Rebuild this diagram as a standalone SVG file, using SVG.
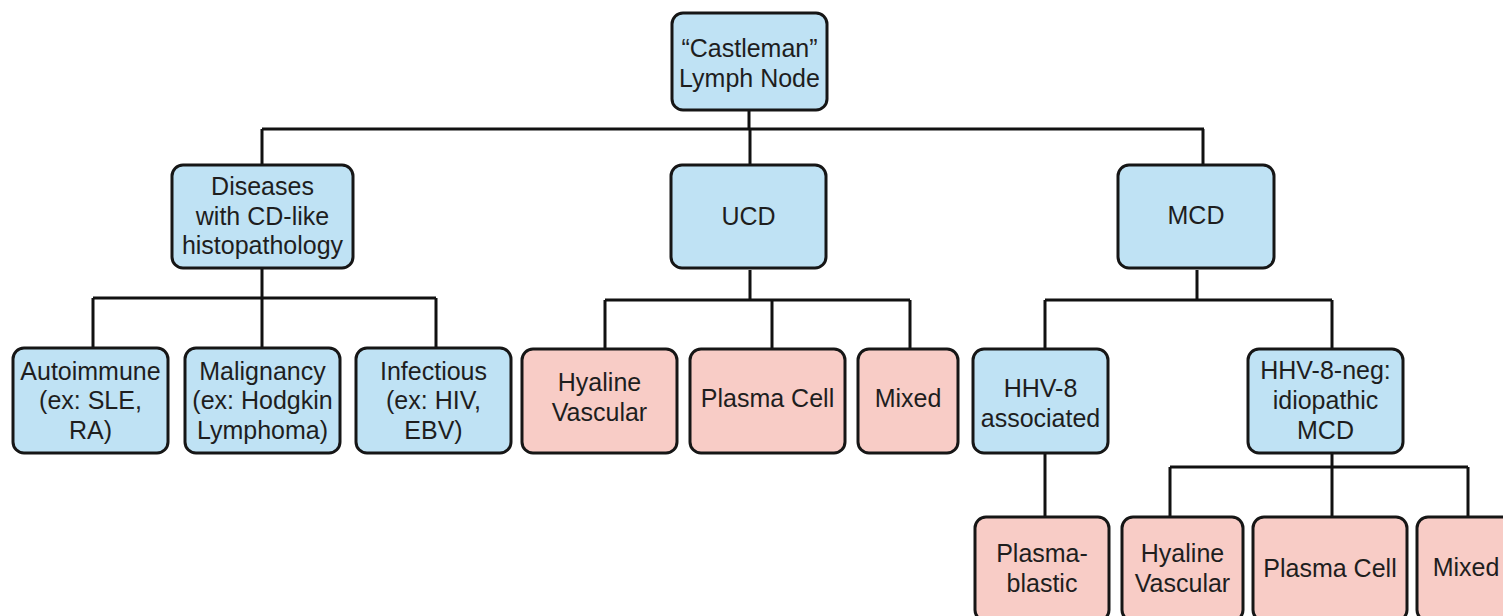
<svg xmlns="http://www.w3.org/2000/svg" width="1503" height="616" viewBox="0 0 1503 616">
<style>
.b{fill:#bfe2f4;stroke:#161616;stroke-width:3}
.p{fill:#f8ccc6;stroke:#161616;stroke-width:3}
text{font-family:"Liberation Sans",Arial,sans-serif;font-size:25px;fill:#1e1e1e;text-anchor:middle}
.c{fill:none;stroke:#111;stroke-width:3}
</style>
<rect width="1503" height="616" fill="#fff"/>
<g id="connectors" class="c">
<path d="M749 110V129M262 129H1204M262 129V165M750 129V165M1203 129V165"/>
<path d="M262 268V298M93 298H436M93 298V348M262 298V348M436 298V348"/>
<path d="M750 270V300M605 300H910M605 300V349M772 300V349M910 300V349"/>
<path d="M1197 270V300M1045 300H1332M1045 300V349M1332 300V349"/>
<path d="M1045 453V517"/>
<path d="M1332 453V467M1170 467H1468M1170 467V517M1332 467V517M1468 467V517"/>
</g>
<g id="root"><rect class="b" x="672" y="13" width="155" height="97" rx="11"/><text x="749.5" y="57">“Castleman”</text><text x="749.5" y="87">Lymph Node</text></g>
<g id="diseases"><rect class="b" x="172" y="165" width="181" height="103" rx="11"/><text x="262.5" y="195">Diseases</text><text x="262.5" y="225">with CD-like</text><text x="262.5" y="254">histopathology</text></g>
<g id="ucd"><rect class="b" x="671" y="165" width="155" height="103" rx="11"/><text x="748.5" y="225">UCD</text></g>
<g id="mcd"><rect class="b" x="1118" y="165" width="156" height="103" rx="11"/><text x="1196" y="224">MCD</text></g>
<g id="autoimmune"><rect class="b" x="13" y="348" width="155" height="105" rx="11"/><text x="90.5" y="380">Autoimmune</text><text x="90.5" y="409">(ex: SLE,</text><text x="90.5" y="439">RA)</text></g>
<g id="malignancy"><rect class="b" x="185" y="348" width="155" height="105" rx="11"/><text x="262.5" y="380">Malignancy</text><text x="262.5" y="409">(ex: Hodgkin</text><text x="262.5" y="439">Lymphoma)</text></g>
<g id="infectious"><rect class="b" x="356" y="348" width="155" height="105" rx="11"/><text x="433.5" y="380">Infectious</text><text x="433.5" y="409">(ex: HIV,</text><text x="433.5" y="439">EBV)</text></g>
<g id="ucd-hyaline"><rect class="p" x="522" y="349" width="155" height="104" rx="11"/><text x="599.5" y="391">Hyaline</text><text x="599.5" y="421">Vascular</text></g>
<g id="ucd-plasma"><rect class="p" x="690" y="349" width="155" height="104" rx="11"/><text x="767.5" y="407">Plasma Cell</text></g>
<g id="ucd-mixed"><rect class="p" x="858" y="349" width="100" height="104" rx="11"/><text x="908" y="407">Mixed</text></g>
<g id="hhv8"><rect class="b" x="973" y="349" width="135" height="104" rx="11"/><text x="1040.5" y="397">HHV-8</text><text x="1040.5" y="427">associated</text></g>
<g id="hhv8neg"><rect class="b" x="1248" y="349" width="155" height="104" rx="11"/><text x="1325.5" y="379">HHV-8-neg:</text><text x="1325.5" y="409">idiopathic</text><text x="1325.5" y="439">MCD</text></g>
<g id="plasmablastic"><rect class="p" x="975" y="517" width="134" height="104" rx="11"/><text x="1042" y="562">Plasma-</text><text x="1042" y="592">blastic</text></g>
<g id="mcd-hyaline"><rect class="p" x="1122" y="517" width="121" height="104" rx="11"/><text x="1182.5" y="562">Hyaline</text><text x="1182.5" y="592">Vascular</text></g>
<g id="mcd-plasma"><rect class="p" x="1253" y="517" width="154" height="104" rx="11"/><text x="1330" y="577">Plasma Cell</text></g>
<g id="mcd-mixed"><rect class="p" x="1417" y="517" width="100" height="104" rx="11"/><text x="1466" y="576">Mixed</text></g>
</svg>
